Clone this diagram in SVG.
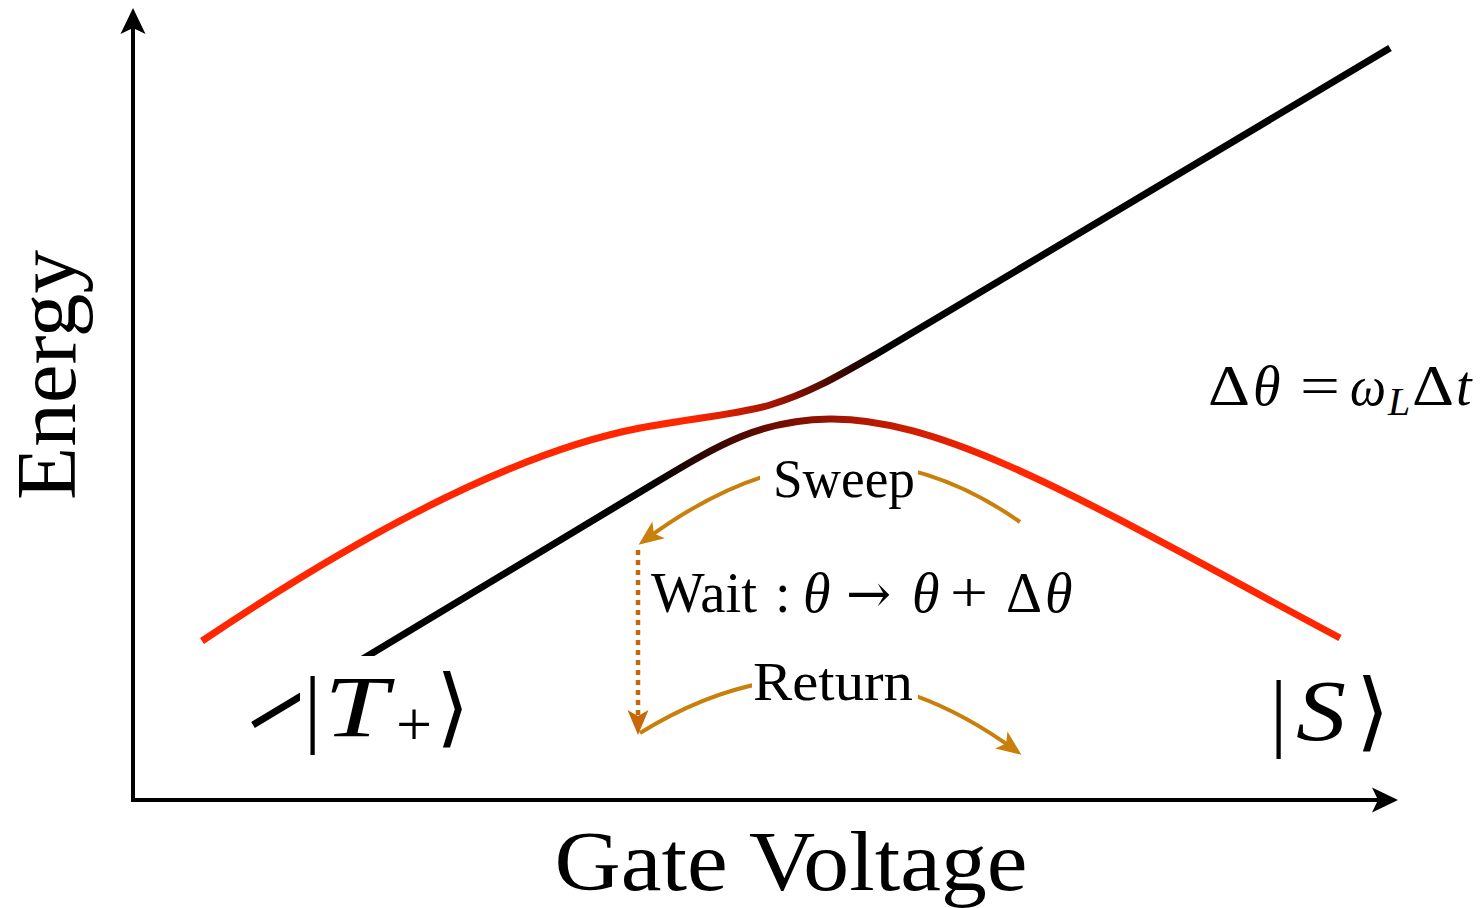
<svg xmlns="http://www.w3.org/2000/svg" width="1483" height="908" viewBox="0 0 1483 908">
<style>
.axis{stroke:#000;stroke-width:4;fill:none}
.curve{stroke-width:7;fill:none;stroke-linecap:butt}
.flow{stroke:#c8800a;stroke-width:4;fill:none}
.wait{stroke:#c8660a;stroke-width:4.5;fill:none;stroke-dasharray:5 5}
text{fill:#000}
.it{font-style:italic}
.bg{fill:#fff}
</style>
<defs>
<marker id="axhead" markerUnits="userSpaceOnUse" markerWidth="40" markerHeight="30" viewBox="-28 -15 40 30" refX="-10" refY="0" orient="auto">
<path d="M0,0 L-26,-12.5 L-20,0 L-26,12.5 Z" fill="#000"/>
</marker>
<marker id="orhead" markerUnits="userSpaceOnUse" markerWidth="40" markerHeight="30" viewBox="-26 -13 40 26" refX="-8" refY="0" orient="auto">
<path d="M0,0 L-25,-10.5 L-19,0 L-25,10.5 Z" fill="#c8800a"/>
</marker>
<marker id="waithead" markerUnits="userSpaceOnUse" markerWidth="40" markerHeight="30" viewBox="-26 -13 40 26" refX="-8" refY="0" orient="auto">
<path d="M0,0 L-25,-10.5 L-19,0 L-25,10.5 Z" fill="#c8660a"/>
</marker>
<linearGradient id="gUpper" gradientUnits="userSpaceOnUse" x1="690" y1="0" x2="880" y2="0">
<stop offset="0" stop-color="#ff2600"/>
<stop offset="0.45" stop-color="#a01400"/>
<stop offset="1" stop-color="#000"/>
</linearGradient>
<linearGradient id="gLower" gradientUnits="userSpaceOnUse" x1="650" y1="0" x2="1000" y2="0">
<stop offset="0" stop-color="#000"/>
<stop offset="0.35" stop-color="#6a0c00"/>
<stop offset="0.6" stop-color="#b01800"/>
<stop offset="1" stop-color="#ff2600"/>
</linearGradient>
</defs>
<rect width="1483" height="908" fill="#fff"/>

<g id="axes">
<line class="axis" x1="133" y1="802" x2="133" y2="18" marker-end="url(#axhead)"/>
<line class="axis" x1="131" y1="800" x2="1388" y2="800" marker-end="url(#axhead)"/>
</g>

<g id="curves">
<path id="upper-level" class="curve" stroke="url(#gUpper)" d="M202,641 C330,555 500,455 640,428 C700,417 740,414 770,405 C810,393 840,375 880,352 L1390,48"/>
<path id="lower-level" class="curve" stroke="url(#gLower)" d="M253,725 L655,483 C720,444 760,420 830,419 C950,418 1100,510 1340,638"/>
</g>

<g id="connectors">
<path id="sweep-arrow" class="flow" d="M1020,522 Q840,395 645,540" marker-end="url(#orhead)"/>
<path id="wait-arrow" class="wait" d="M638,550 L638,727" marker-end="url(#waithead)"/>
<path id="return-arrow" class="flow" d="M640,733 Q830,615 1015,750" marker-end="url(#orhead)"/>
</g>

<g font-family="'Liberation Serif', 'Times New Roman', Times, 'DejaVu Serif', serif">
<g id="label-energy">
<text transform="rotate(-90)" x="-375" y="75" font-size="84" text-anchor="middle" textLength="250" lengthAdjust="spacingAndGlyphs">Energy</text>
</g>
<g id="label-gate">
<text x="791" y="890" font-size="84" text-anchor="middle" textLength="473" lengthAdjust="spacingAndGlyphs">Gate Voltage</text>
</g>

<g id="node-T">
<rect class="bg" x="300" y="656" width="170" height="100"/>
<text y="736" font-size="86"><tspan x="304">|</tspan><tspan x="324" class="it" textLength="64" lengthAdjust="spacingAndGlyphs">T</tspan><tspan x="396" font-size="64" dy="10">+</tspan><tspan x="436" dy="-10">⟩</tspan></text>
</g>

<g id="node-S">
<text y="740" font-size="86"><tspan x="1270">|</tspan><tspan x="1296" class="it" textLength="50" lengthAdjust="spacingAndGlyphs">S</tspan><tspan x="1356">⟩</tspan></text>
</g>

<g id="label-sweep">
<rect class="bg" x="760" y="452" width="158" height="56"/>
<text x="844" y="497" font-size="54" text-anchor="middle" textLength="142" lengthAdjust="spacingAndGlyphs">Sweep</text>
</g>

<g id="label-wait">
<text y="612" font-size="56"><tspan x="651" textLength="106" lengthAdjust="spacingAndGlyphs">Wait</tspan><tspan x="775">:</tspan><tspan x="803" class="it">θ</tspan><tspan x="846" font-family="'DejaVu Serif', serif" font-size="54">→</tspan><tspan x="912" class="it">θ</tspan><tspan x="950" textLength="38" lengthAdjust="spacingAndGlyphs">+</tspan><tspan x="1006">Δ</tspan><tspan x="1045" class="it">θ</tspan></text>
</g>

<g id="label-return">
<rect class="bg" x="752" y="655" width="166" height="56"/>
<text x="833" y="700" font-size="54" text-anchor="middle" textLength="160" lengthAdjust="spacingAndGlyphs">Return</text>
</g>

<g id="label-formula">
<text y="405" font-size="56"><tspan x="1208" textLength="42" lengthAdjust="spacingAndGlyphs">Δ</tspan><tspan x="1253" class="it">θ</tspan><tspan x="1300" textLength="40" lengthAdjust="spacingAndGlyphs">=</tspan><tspan x="1350" class="it" textLength="36" lengthAdjust="spacingAndGlyphs">ω</tspan><tspan x="1388" class="it" font-size="40" dy="10">L</tspan><tspan x="1412" dy="-10" textLength="42" lengthAdjust="spacingAndGlyphs">Δ</tspan><tspan x="1456" class="it">t</tspan></text>
</g>
</g>
</svg>
